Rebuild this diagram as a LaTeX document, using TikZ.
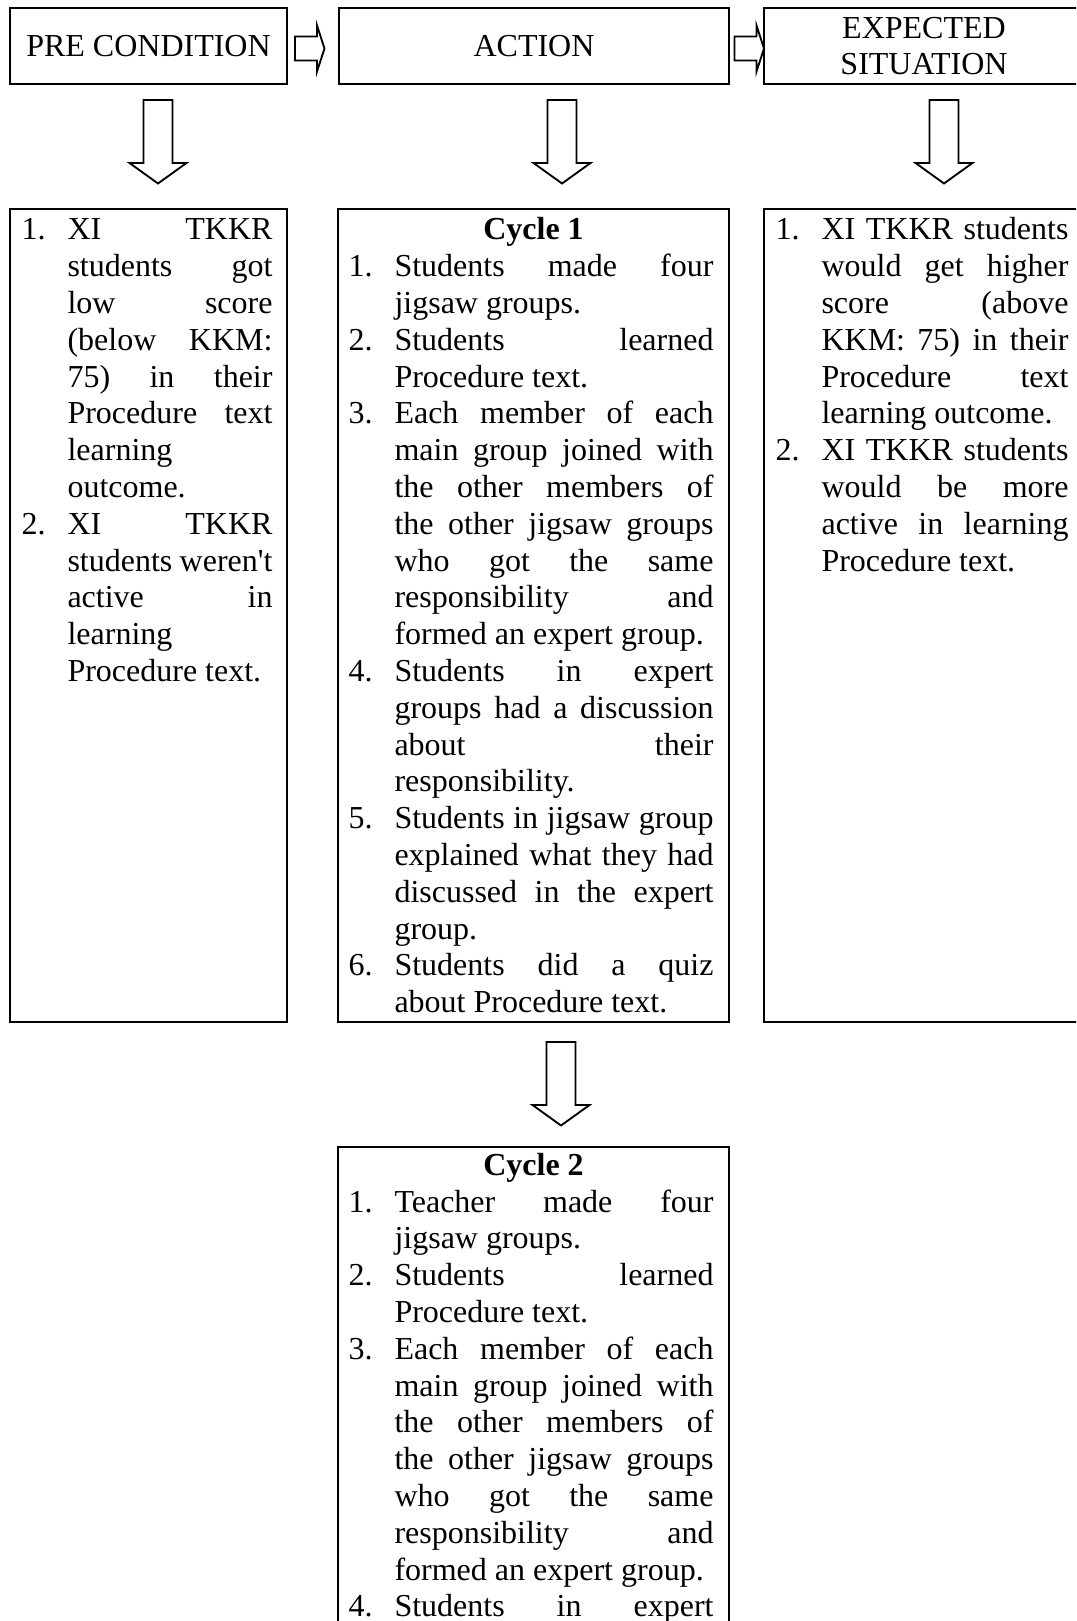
\documentclass[tikz,border=0pt]{standalone}
\usepackage{fontspec}
\setmainfont{Liberation Serif}
\newdimen\colw
\newcommand\jitem[2]{\hbox to\colw{\hbox to 17.25pt{#1\hfil}#2}}
\newcommand\litem[2]{\hbox to\colw{\hbox to 17.25pt{#1\hfil}#2\hfil}}
\newcommand\jline[1]{\hbox to\colw{\hskip17.25pt\relax #1}}
\newcommand\lline[1]{\hbox to\colw{\hskip17.25pt\relax #1\hfil}}
\newcommand\blkdown[2]{\draw[blk] ({#1-14.5},#2) -- ({#1-14.5},{#2+63}) -- ({#1-28.5},{#2+63}) -- (#1,{#2+83.5}) -- ({#1+28.5},{#2+63}) -- ({#1+14.5},{#2+63}) -- ({#1+14.5},#2) -- cycle;}
\newcommand\blkright[2]{\draw[blk] (#1,{#2-12}) -- ({#1+22},{#2-12}) -- ({#1+22},{#2-23}) -- ({#1+29.5},#2) -- ({#1+22},{#2+23}) -- ({#1+22},{#2+12}) -- (#1,{#2+12}) -- cycle;}
\begin{document}
\begin{tikzpicture}[x=0.375pt,y=-0.375pt,
  every node/.style={font=\fontsize{12}{13.8}\selectfont},
  box/.style={draw,line width=0.75pt,rectangle,inner sep=0pt},
  txt/.style={anchor=base west,inner sep=0pt},
  cyc/.style={anchor=base,inner sep=0pt,font=\fontsize{12}{13.8}\selectfont\bfseries},
  blk/.style={draw,line width=0.7pt,fill=white,line join=miter}]
\fill[white] (0,0) rectangle (1076,1621);
\useasboundingbox (0,0) rectangle (1076,1621);
\clip (0,0) rectangle (1076,1621);
% header boxes
\node[box,minimum width=103.875pt,minimum height=28.5pt] (h1) at (148.5,46) {PRE CONDITION};
\node[box,minimum width=146.25pt,minimum height=28.5pt] (h2) at (534,46) {ACTION};
\node[box,minimum width=120pt,minimum height=28.5pt,align=center] (h3) at (924,46) {EXPECTED\\SITUATION};
% content boxes
\node[box,minimum width=103.875pt,minimum height=304.875pt] (b1) at (148.5,615.5) {};
\node[box,minimum width=146.625pt,minimum height=304.875pt] (b2) at (533.5,615.5) {};
\node[box,minimum width=120pt,minimum height=304.875pt] (b3) at (924,615.5) {};
\node[box,minimum width=146.625pt,minimum height=207.375pt] (b4) at (533.5,1423.5) {};
% arrows
\blkright{295}{48.5}
\blkright{734.5}{48.5}
\blkdown{158}{100}
\blkdown{562}{100}
\blkdown{944}{100}
\blkdown{561}{1042}
% texts
\node[txt] (t1) at (21,240) {\vtop{\colw=94.125pt\fontsize{12}{13.8}\selectfont
\jitem{1.}{XI TKKR}
\jline{students got}
\jline{low score}
\jline{(below KKM:}
\jline{75) in their}
\jline{Procedure text}
\lline{learning}
\lline{outcome.}
\jitem{2.}{XI TKKR}
\jline{students weren\textquotesingle t}
\jline{active in}
\lline{learning}
\lline{Procedure text.}
}};
\node[cyc] (c1) at (533.5,240) {Cycle 1};
\node[txt] (t2) at (348,276.8) {\vtop{\colw=136.875pt\fontsize{12}{13.8}\selectfont
\jitem{1.}{Students made four}
\lline{jigsaw groups.}
\jitem{2.}{Students learned}
\lline{Procedure text.}
\jitem{3.}{Each member of each}
\jline{main group joined with}
\jline{the other members of}
\jline{the other jigsaw groups}
\jline{who got the same}
\jline{responsibility and}
\lline{formed an expert group.}
\jitem{4.}{Students in expert}
\jline{groups had a discussion}
\jline{about their}
\lline{responsibility.}
\jitem{5.}{Students in jigsaw group}
\jline{explained what they had}
\jline{discussed in the expert}
\lline{group.}
\jitem{6.}{Students did a quiz}
\lline{about Procedure text.}
}};
\node[txt] (t3) at (775,240) {\vtop{\colw=109.875pt\fontsize{12}{13.8}\selectfont
\jitem{1.}{XI TKKR students}
\jline{would get higher}
\jline{score (above}
\jline{KKM: 75) in their}
\jline{Procedure text}
\lline{learning outcome.}
\jitem{2.}{XI TKKR students}
\jline{would be more}
\jline{active in learning}
\lline{Procedure text.}
}};
\node[cyc] (c2) at (533.5,1175) {Cycle 2};
\node[txt] (t4) at (348,1212) {\vtop{\colw=136.875pt\fontsize{12}{13.8}\selectfont
\jitem{1.}{Teacher made four}
\lline{jigsaw groups.}
\jitem{2.}{Students learned}
\lline{Procedure text.}
\jitem{3.}{Each member of each}
\jline{main group joined with}
\jline{the other members of}
\jline{the other jigsaw groups}
\jline{who got the same}
\jline{responsibility and}
\lline{formed an expert group.}
\jitem{4.}{Students in expert}
}};
\end{tikzpicture}
\end{document}
